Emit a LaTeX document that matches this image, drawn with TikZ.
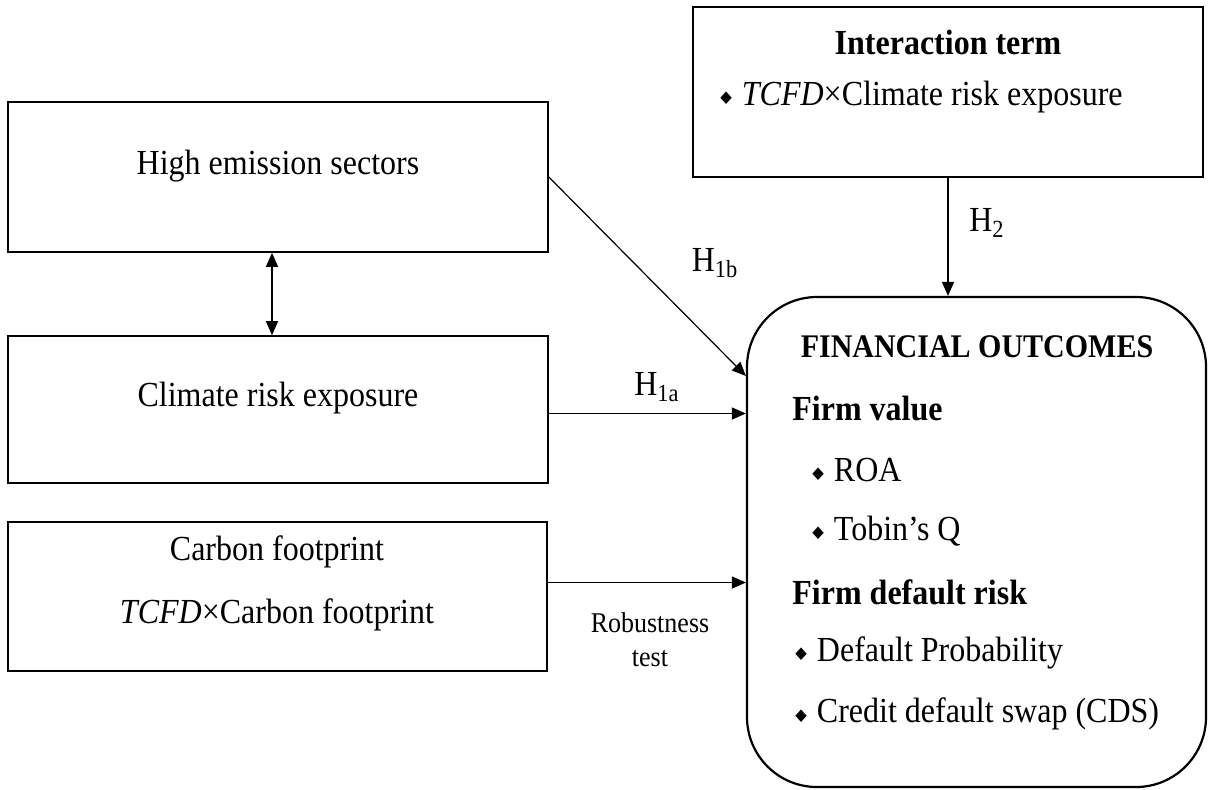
\documentclass[tikz,border=0pt]{standalone}
\usepackage{fontspec}
\usepackage{graphicx}
\setmainfont{Liberation Serif}
\newfontfamily\symfont{DejaVu Sans}
\usetikzlibrary{arrows.meta}
\newcommand{\bul}{{\symfont\fontsize{7.5}{8}\selectfont\raisebox{1.2pt}{◆}}\hspace{5pt}}
\newcommand{\vs}[1]{\scalebox{1}[1.1]{#1}}
\begin{document}
\begin{tikzpicture}[x=0.5pt,y=-0.5pt,
  box/.style={draw, line width=0.8pt, inner sep=0pt},
  obox/.style={draw, line width=1.1pt, rounded corners=35pt, inner sep=0pt},
  conn/.style={-{Triangle[length=7pt,width=6pt]}, line width=0.6pt},
  dconn/.style={{Triangle[length=7pt,width=6pt]}-{Triangle[length=7pt,width=6pt]}, line width=0.6pt},
  txt/.style={inner sep=0pt, font=\fontsize{16}{19}\selectfont},
  hd/.style={inner sep=0pt, font=\fontsize{16}{19}\selectfont\bfseries},
  fo/.style={inner sep=0pt, font=\fontsize{15}{18}\selectfont\bfseries},
  lbl/.style={inner sep=0pt, font=\fontsize{16}{18}\selectfont},
  slbl/.style={inner sep=0pt, align=center, font=\fontsize{13}{17}\selectfont},
]
\useasboundingbox (0,0) rectangle (1208,789);

% boxes
\node[box, minimum width=270pt, minimum height=75pt] (b1) at (278,177) {};
\node[box, minimum width=270pt, minimum height=73.5pt] (b2) at (278,409.5) {};
\node[box, minimum width=269.5pt, minimum height=74.5pt] (b3) at (277.5,596.5) {};
\node[box, minimum width=255pt, minimum height=85pt] (ib) at (948,92) {};
\node[obox, minimum width=229.5pt, minimum height=245pt] (fob) at (976.5,542) {};

% box texts
\node[txt] (t1) at (278,166) {\vs{High emission sectors}};
\node[txt] (t2) at (278,398) {\vs{Climate risk exposure}};
\node[txt] (t3a) at (277,552) {\vs{Carbon footprint}};
\node[txt] (t3b) at (277,615) {\vs{\textit{TCFD}×Carbon footprint}};
\node[hd] (ti) at (948,42) {\vs{Interaction term}};
\node[txt, anchor=west] (tib) at (720,97) {\vs{\bul\textit{TCFD}×Climate risk exposure}};

% outcomes
\node[fo] (fin) at (977,347) {\vs{FINANCIAL OUTCOMES}};
\node[hd, anchor=west] (fv) at (792,408) {\vs{Firm value}};
\node[txt, anchor=west] (roa) at (812,470) {\vs{\bul ROA}};
\node[txt, anchor=west] (tq) at (812,531) {\vs{\bul Tobin’s Q}};
\node[hd, anchor=west] (fd) at (792,592) {\vs{Firm default risk}};
\node[txt, anchor=west] (dp) at (795,653) {\vs{\bul Default Probability}};
\node[txt, anchor=west] (cds) at (795,714) {\vs{\bul Credit default swap (CDS)}};

% connectors
\draw[dconn] ([xshift=-3pt]b1.south) -- ([xshift=-3pt]b2.north);
\coordinate (h1bend) at ([yshift=83pt]fob.west);
\draw[conn] (b1.east) -- (h1bend);
\draw[conn] ([yshift=-2pt]b2.east) -- ([yshift=-2pt]b2.east -| fob.west);
\draw[conn] ([yshift=7pt]b3.east) -- ([yshift=7pt]b3.east -| fob.west);
\draw[conn] (ib.south) -- (ib.south |- fob.north);

% labels
\node[lbl] (lh1b) at (715,263) {\vs{H\textsubscript{1b}}};
\node[lbl] (lh1a) at (657,387) {\vs{H\textsubscript{1a}}};
\node[lbl] (lh2) at (987,223) {\vs{H\textsubscript{2}}};
\node[slbl] (lrob) at (650,640) {\vs{Robustness}\\\vs{test}};
\end{tikzpicture}
\end{document}
